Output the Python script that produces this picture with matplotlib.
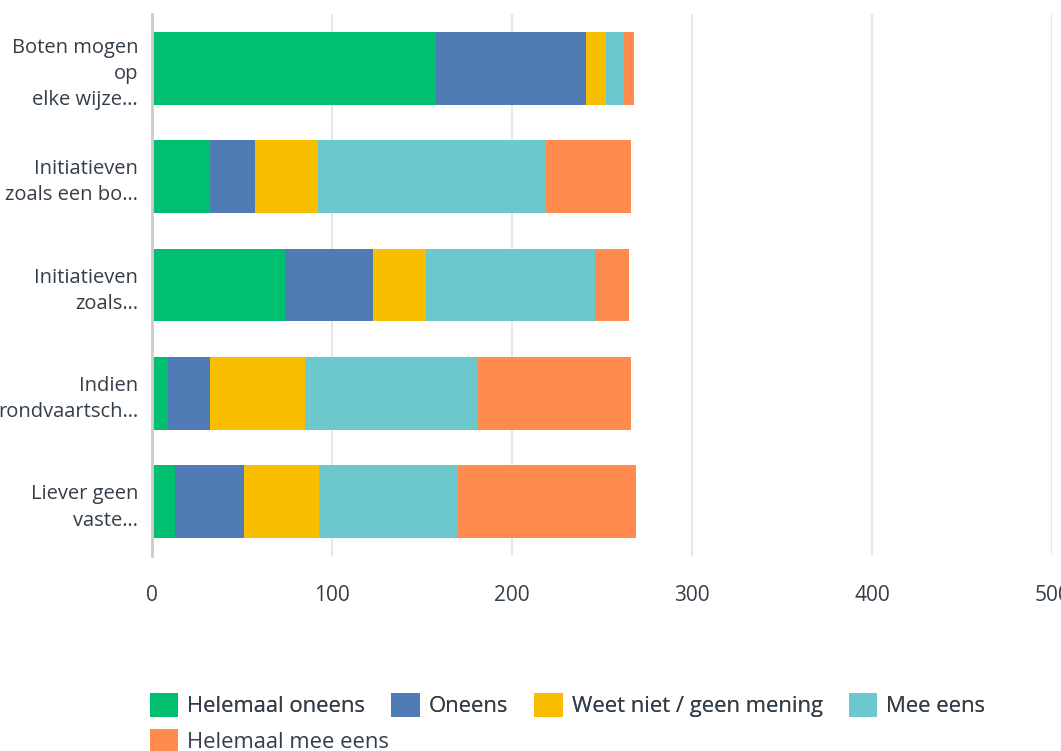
import matplotlib
matplotlib.use("Agg")
import matplotlib.pyplot as plt
from matplotlib.patches import Patch
import numpy as np

plt.rcParams['font.family'] = ['Open Sans', 'DejaVu Sans']

categories = ["Boten mogen\nop\nelke wijze…", "Initiatieven\nzoals een bo…", "Initiatieven\nzoals…",
              "Indien\nrondvaartsch…", "Liever geen\nvaste…"]
series_names = ["Helemaal oneens", "Oneens", "Weet niet / geen mening", "Mee eens", "Helemaal mee eens"]
helemaal_oneens = [158, 32, 74, 9, 13]
oneens = [83, 25, 49, 23, 38]
weet_niet = [11, 35, 29, 53, 42]
mee_eens = [10, 127, 94, 96, 77]
helemaal_mee_eens = [6, 47, 19, 85, 99]
x_ticks = [0, 100, 200, 300, 400, 500]

colors = ["#00BF6F", "#507CB6", "#F9BE00", "#6BC8CD", "#FF8B4F"]
text_color = "#333E48"

series = [helemaal_oneens, oneens, weet_niet, mee_eens, helemaal_mee_eens]

fig = plt.figure(figsize=(10.61, 7.51), dpi=100)
ax = fig.add_axes([152/1061, 1 - 556/751, (1052 - 152)/1061, (556 - 14)/751])

y = np.arange(len(categories))
left = np.zeros(len(categories))
for vals, col, name in zip(series, colors, series_names):
    ax.barh(y, vals, left=left, height=0.67, color=col, label=name, zorder=3)
    left += np.array(vals)

ax.set_xlim(0, 500)
ax.set_ylim(len(categories) - 0.5, -0.5)
ax.set_xticks(x_ticks)
ax.set_xticklabels([str(t) for t in x_ticks], fontsize=15, color=text_color)
ax.set_yticks(y)
ax.set_yticklabels(categories, fontsize=14.5, color=text_color, linespacing=1.42)
ax.tick_params(axis='both', length=0)
ax.tick_params(axis='x', pad=21)
ax.tick_params(axis='y', pad=10)
ax.grid(axis='x', color="#E3E3E3", linewidth=1.2, zorder=0)
for s in ['top', 'right', 'bottom']:
    ax.spines[s].set_visible(False)
ax.spines['left'].set_color("#CCCCCC")
ax.spines['left'].set_linewidth(2)
ax.spines['left'].set_zorder(4)

handles = [Patch(facecolor=c, edgecolor='none') for c in colors]
leg1 = fig.legend(handles[:4], series_names[:4], loc='upper left', bbox_to_anchor=(141/1061, 1 - 684/751),
                  ncol=4, frameon=False, fontsize=15.8, handlelength=1.3, handleheight=1.3,
                  handletextpad=0.4, columnspacing=1.2, labelcolor=text_color, borderaxespad=0)
leg2 = fig.legend(handles[4:], series_names[4:], loc='upper left', bbox_to_anchor=(141/1061, 1 - 720/751),
                  ncol=1, frameon=False, fontsize=15.8, handlelength=1.3, handleheight=1.3,
                  handletextpad=0.4, labelcolor=text_color, borderaxespad=0)
fig.add_artist(leg1)

fig.savefig("out.png", dpi=100)
